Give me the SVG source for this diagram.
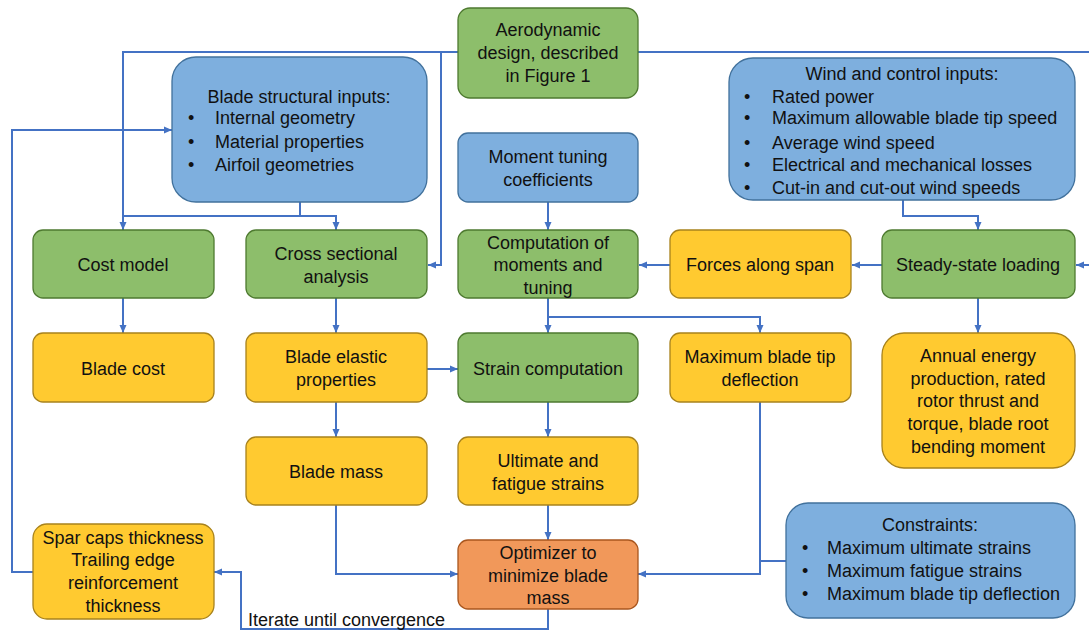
<svg xmlns="http://www.w3.org/2000/svg" width="1089" height="631" viewBox="0 0 1089 631">
<defs>
<marker id="ah" markerUnits="userSpaceOnUse" markerWidth="8" markerHeight="8" viewBox="0 0 8 8" refX="8" refY="4" orient="auto">
<path d="M0,0.5 L8,4 L0,7.5 z" fill="#4472C4"/>
</marker>
<style>
text{font-family:"Liberation Sans",Arial,sans-serif;font-size:18px;fill:#111;}
.c{text-anchor:middle;}
.g{fill:#8DBE6B;stroke:#4E7A30;stroke-width:1.3;}
.y{fill:#FFCA30;stroke:#A8821C;stroke-width:1.3;}
.b{fill:#7EAFDE;stroke:#41719C;stroke-width:1.3;}
.o{fill:#F1985A;stroke:#A9561E;stroke-width:1.3;}
#connectors path{fill:none;stroke:#4472C4;stroke-width:2;}
</style>
</defs>
<rect width="1089" height="631" fill="#fff"/>

<g id="connectors">
<path d="M458,52 H123 V230" marker-end="url(#ah)"/>
<path d="M441,52 V265 H428" marker-end="url(#ah)"/>
<path d="M638,52 H1096 V265 H1076" marker-end="url(#ah)"/>
<path d="M300,202 V216 H336 V230" marker-end="url(#ah)"/>
<path d="M300,216 H123"/>
<path d="M548,202 V230" marker-end="url(#ah)"/>
<path d="M903,200 V216 H978 V230" marker-end="url(#ah)"/>
<path d="M882,265 H852" marker-end="url(#ah)"/>
<path d="M670,265 H639" marker-end="url(#ah)"/>
<path d="M123,298 V333" marker-end="url(#ah)"/>
<path d="M336,298 V333" marker-end="url(#ah)"/>
<path d="M548,298 V333" marker-end="url(#ah)"/>
<path d="M548,317 H760 V333" marker-end="url(#ah)"/>
<path d="M978,298 V333" marker-end="url(#ah)"/>
<path d="M427,369 H458" marker-end="url(#ah)"/>
<path d="M336,402 V437" marker-end="url(#ah)"/>
<path d="M548,402 V437" marker-end="url(#ah)"/>
<path d="M548,505 V540" marker-end="url(#ah)"/>
<path d="M336,505 V574 H458" marker-end="url(#ah)"/>
<path d="M760,402 V574 H638" marker-end="url(#ah)"/>
<path d="M786,561 H760"/>
<path d="M548,609 V629 H241 V572 H214" marker-end="url(#ah)"/>
<path d="M33,572 H12 V130 H172" marker-end="url(#ah)"/>
</g>

<g id="aero">
<rect class="g" x="458" y="8" width="180" height="90" rx="12"/>
<text class="c" x="548" y="36">Aerodynamic</text>
<text class="c" x="548" y="59">design, described</text>
<text class="c" x="548" y="82">in Figure 1</text>
</g>

<g id="blade-structural">
<rect class="b" x="172" y="57" width="255" height="145" rx="24"/>
<text class="c" x="299" y="103">Blade structural inputs:</text>
<text x="188" y="124">•</text><text x="215" y="124">Internal geometry</text>
<text x="188" y="148">•</text><text x="215" y="148">Material properties</text>
<text x="188" y="171">•</text><text x="215" y="171">Airfoil geometries</text>
</g>

<g id="wind">
<rect class="b" x="729" y="58" width="346" height="142" rx="24"/>
<text class="c" x="902" y="80">Wind and control inputs:</text>
<text x="744" y="103">•</text><text x="772" y="103">Rated power</text>
<text x="744" y="124">•</text><text x="772" y="124">Maximum allowable blade tip speed</text>
<text x="744" y="149">•</text><text x="772" y="149">Average wind speed</text>
<text x="744" y="171">•</text><text x="772" y="171">Electrical and mechanical losses</text>
<text x="744" y="194">•</text><text x="772" y="194">Cut-in and cut-out wind speeds</text>
</g>

<g id="moment-tuning">
<rect class="b" x="458" y="133" width="180" height="69" rx="10"/>
<text class="c" x="548" y="163">Moment tuning</text>
<text class="c" x="548" y="186">coefficients</text>
</g>

<g id="cost-model">
<rect class="g" x="33" y="230" width="181" height="68" rx="10"/>
<text class="c" x="123" y="271">Cost model</text>
</g>

<g id="cross-sectional">
<rect class="g" x="246" y="230" width="181" height="68" rx="10"/>
<text class="c" x="336" y="260">Cross sectional</text>
<text class="c" x="336" y="283">analysis</text>
</g>

<g id="computation">
<rect class="g" x="458" y="230" width="180" height="68" rx="10"/>
<text class="c" x="548" y="249">Computation of</text>
<text class="c" x="548" y="271">moments and</text>
<text class="c" x="548" y="294">tuning</text>
</g>

<g id="forces">
<rect class="y" x="670" y="230" width="181" height="68" rx="10"/>
<text class="c" x="760" y="271">Forces along span</text>
</g>

<g id="steady">
<rect class="g" x="882" y="230" width="193" height="68" rx="10"/>
<text class="c" x="978" y="271">Steady-state loading</text>
</g>

<g id="blade-cost">
<rect class="y" x="33" y="333" width="181" height="69" rx="10"/>
<text class="c" x="123" y="375">Blade cost</text>
</g>

<g id="elastic">
<rect class="y" x="246" y="333" width="181" height="69" rx="10"/>
<text class="c" x="336" y="363">Blade elastic</text>
<text class="c" x="336" y="386">properties</text>
</g>

<g id="strain">
<rect class="g" x="458" y="333" width="180" height="69" rx="10"/>
<text class="c" x="548" y="375">Strain computation</text>
</g>

<g id="max-tip">
<rect class="y" x="670" y="333" width="181" height="69" rx="10"/>
<text class="c" x="760" y="363">Maximum blade tip</text>
<text class="c" x="760" y="386">deflection</text>
</g>

<g id="annual">
<rect class="y" x="882" y="333" width="193" height="135" rx="22"/>
<text class="c" x="978" y="362">Annual energy</text>
<text class="c" x="978" y="385">production, rated</text>
<text class="c" x="978" y="407">rotor thrust and</text>
<text class="c" x="978" y="430">torque, blade root</text>
<text class="c" x="978" y="453">bending moment</text>
</g>

<g id="blade-mass">
<rect class="y" x="246" y="437" width="181" height="68" rx="10"/>
<text class="c" x="336" y="478">Blade mass</text>
</g>

<g id="ultimate">
<rect class="y" x="458" y="437" width="180" height="68" rx="10"/>
<text class="c" x="548" y="467">Ultimate and</text>
<text class="c" x="548" y="490">fatigue strains</text>
</g>

<g id="spar">
<rect class="y" x="33" y="524" width="181" height="95" rx="14"/>
<text class="c" x="123" y="544">Spar caps thickness</text>
<text class="c" x="123" y="566">Trailing edge</text>
<text class="c" x="123" y="589">reinforcement</text>
<text class="c" x="123" y="612">thickness</text>
</g>

<g id="optimizer">
<rect class="o" x="458" y="540" width="180" height="69" rx="10"/>
<text class="c" x="548" y="559">Optimizer to</text>
<text class="c" x="548" y="582">minimize blade</text>
<text class="c" x="548" y="604">mass</text>
</g>

<g id="constraints">
<rect class="b" x="786" y="503" width="289" height="115" rx="22"/>
<text class="c" x="930" y="531">Constraints:</text>
<text x="802" y="554">•</text><text x="827" y="554">Maximum ultimate strains</text>
<text x="802" y="577">•</text><text x="827" y="577">Maximum fatigue strains</text>
<text x="802" y="600">•</text><text x="827" y="600">Maximum blade tip deflection</text>
</g>

<g id="iterate-label">
<text x="248" y="626">Iterate until convergence</text>
</g>
</svg>
